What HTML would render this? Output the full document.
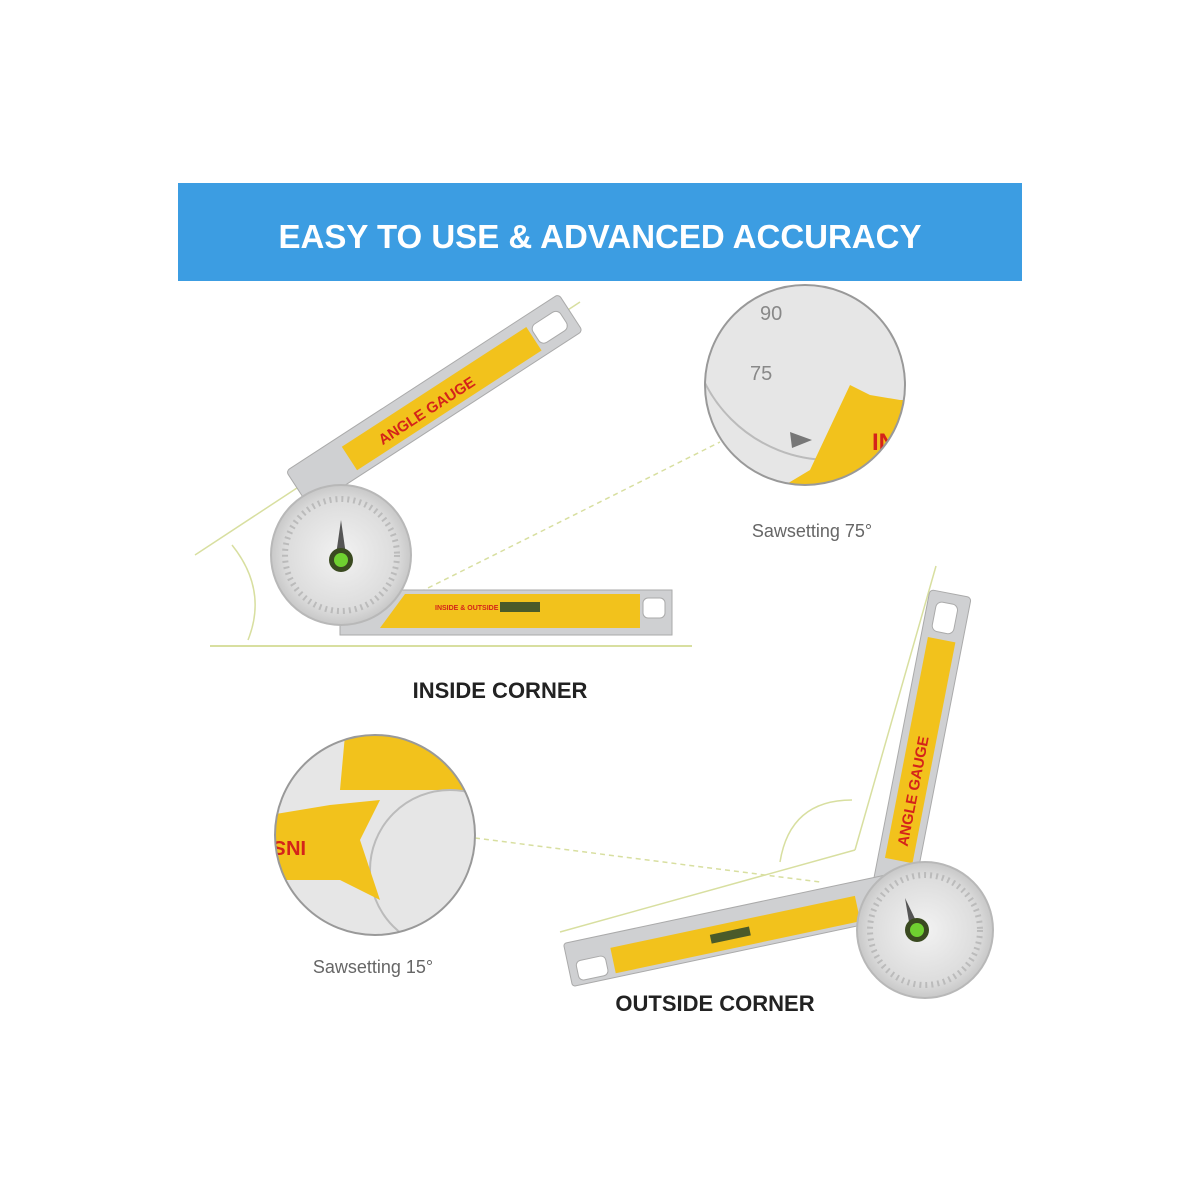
<!DOCTYPE html>
<html><head><meta charset="utf-8"><style>
html,body{margin:0;padding:0;background:#fff}
svg{display:block}
text{font-family:"Liberation Sans",sans-serif}
</style></head><body>
<svg width="1200" height="1200" viewBox="0 0 1200 1200" xmlns="http://www.w3.org/2000/svg">
<defs>
<clipPath id="c1"><circle cx="805" cy="385" r="100"/></clipPath>
<clipPath id="c2"><circle cx="375" cy="835" r="100"/></clipPath>
<radialGradient id="disc" cx="50%" cy="50%" r="50%"><stop offset="0" stop-color="#f2f2f2"/><stop offset="0.8" stop-color="#dcdcdc"/><stop offset="1" stop-color="#c8c8c8"/></radialGradient>
</defs>
<rect x="178" y="183" width="844" height="98" fill="#3c9de2"/>
<text x="600" y="248" text-anchor="middle" font-size="33" font-weight="bold" fill="#fff">EASY TO USE &amp; ADVANCED ACCURACY</text>

<line x1="195" y1="555" x2="580" y2="302" stroke="#d8dfa0" stroke-width="1.5"/>
<line x1="210" y1="646" x2="692" y2="646" stroke="#d8dfa0" stroke-width="2"/>
<path d="M232 545 Q268 590 248 640" fill="none" stroke="#d8dfa0" stroke-width="1.5"/>
<line x1="420" y1="592" x2="720" y2="442" stroke="#d8dfa0" stroke-width="1.5" stroke-dasharray="5,4"/>

<g transform="translate(310,508) rotate(-33)">
<rect x="0" y="-44" width="325" height="44" rx="4" fill="#cfd0d2" stroke="#aaa"/>
<rect x="60" y="-34" width="220" height="28" fill="#f2c21c"/>
<rect x="283" y="-32" width="33" height="22" rx="6" fill="#fff" stroke="#aaa"/>
<text x="95" y="-13" font-size="15" font-weight="bold" fill="#d4231a">ANGLE GAUGE</text>
</g>
<rect x="340" y="590" width="332" height="45" fill="#cfd0d2" stroke="#aaa"/>
<path d="M405 594 L640 594 L640 628 L380 628 Z" fill="#f2c21c"/>
<rect x="643" y="598" width="22" height="20" rx="5" fill="#fff" stroke="#aaa"/>
<rect x="500" y="602" width="40" height="10" fill="#4a5a2a"/>
<text x="435" y="610" font-size="7" font-weight="bold" fill="#d4231a">INSIDE &amp; OUTSIDE</text>
<circle cx="341" cy="555" r="70" fill="url(#disc)" stroke="#b8b8b8" stroke-width="2"/>
<circle cx="341" cy="555" r="56" fill="none" stroke="#bbb" stroke-dasharray="2,4" stroke-width="6"/>
<polygon points="341,520 346,555 336,555" fill="#555"/>
<circle cx="341" cy="560" r="12" fill="#3a4a20"/><circle cx="341" cy="560" r="7" fill="#6fd030"/>

<g clip-path="url(#c1)">
<rect x="700" y="280" width="210" height="210" fill="#e6e6e6"/>
<circle cx="830" cy="320" r="140" fill="none" stroke="#bbb" stroke-width="2"/>
<path d="M850 385 L870 395 L900 400 L910 400 L910 500 L760 500 L810 470 Z" fill="#f2c21c"/>
<polygon points="790,432 812,440 792,448" fill="#777"/>
<text x="750" y="380" font-size="20" fill="#888">75</text>
<text x="760" y="320" font-size="20" fill="#888">90</text>
<text x="872" y="450" font-size="24" font-weight="bold" fill="#d4231a">IN</text>
</g>
<circle cx="805" cy="385" r="100" fill="none" stroke="#999" stroke-width="2"/>
<text x="812" y="537" text-anchor="middle" font-size="18" fill="#666">Sawsetting 75°</text>
<text x="500" y="698" text-anchor="middle" font-size="22" font-weight="bold" fill="#222">INSIDE CORNER</text>

<line x1="936" y1="566" x2="855" y2="850" stroke="#d8dfa0" stroke-width="1.5"/>
<line x1="855" y1="850" x2="560" y2="932" stroke="#d8dfa0" stroke-width="1.5"/>
<path d="M780 862 Q790 800 852 800" fill="none" stroke="#d8dfa0" stroke-width="1.5"/>
<line x1="475" y1="838" x2="820" y2="882" stroke="#d8dfa0" stroke-width="1.5" stroke-dasharray="5,4"/>

<g transform="translate(893,890) rotate(-79)">
<rect x="0" y="-21" width="302" height="42" rx="4" fill="#cfd0d2" stroke="#aaa"/>
<rect x="30" y="-14" width="225" height="28" fill="#f2c21c"/>
<rect x="262" y="-12" width="30" height="22" rx="6" fill="#fff" stroke="#aaa"/>
<text x="45" y="6" font-size="15" font-weight="bold" fill="#d4231a">ANGLE GAUGE</text>
</g>
<g transform="translate(568,965) rotate(-12)">
<rect x="0" y="-22" width="330" height="44" rx="3" fill="#cfd0d2" stroke="#aaa"/>
<rect x="45" y="-8" width="250" height="26" fill="#f2c21c"/>
<rect x="8" y="-2" width="30" height="20" rx="5" fill="#fff" stroke="#aaa"/>
<rect x="145" y="0" width="40" height="9" fill="#4a5a2a"/>
</g>
<circle cx="925" cy="930" r="68" fill="url(#disc)" stroke="#b8b8b8" stroke-width="2"/>
<circle cx="925" cy="930" r="55" fill="none" stroke="#bbb" stroke-dasharray="2,4" stroke-width="6"/>
<polygon points="905,898 918,925 910,928" fill="#555"/>
<circle cx="917" cy="930" r="12" fill="#3a4a20"/><circle cx="917" cy="930" r="7" fill="#6fd030"/>

<g clip-path="url(#c2)">
<rect x="270" y="730" width="210" height="210" fill="#e6e6e6"/>
<path d="M345 735 L420 735 L480 760 L480 790 L340 790 Z" fill="#f2c21c"/>
<circle cx="450" cy="870" r="80" fill="none" stroke="#bbb" stroke-width="2"/>
<path d="M270 815 L330 805 L380 800 L360 840 L380 900 L340 880 L270 880 Z" fill="#f2c21c"/>
<text x="278" y="855" font-size="20" font-weight="bold" fill="#d4231a" transform="rotate(180 292 848)">INS</text>
</g>
<circle cx="375" cy="835" r="100" fill="none" stroke="#999" stroke-width="2"/>
<text x="373" y="973" text-anchor="middle" font-size="18" fill="#666">Sawsetting 15°</text>
<text x="715" y="1011" text-anchor="middle" font-size="22" font-weight="bold" fill="#222">OUTSIDE CORNER</text>
</svg>
</body></html>
